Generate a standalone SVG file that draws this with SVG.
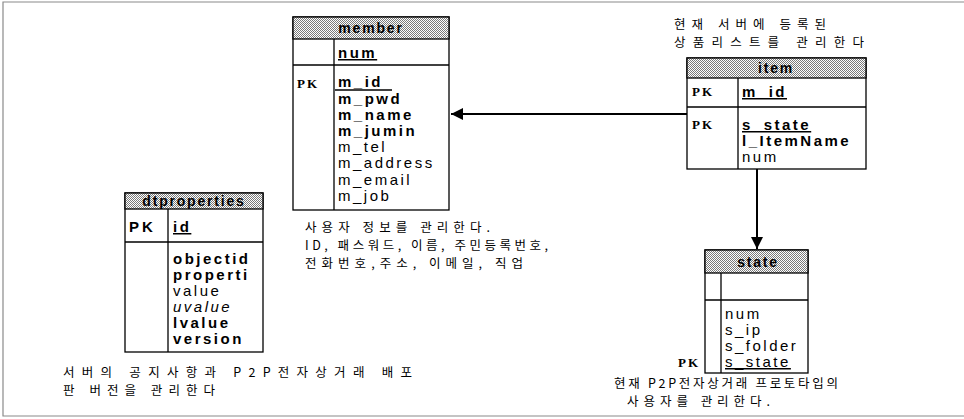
<svg xmlns="http://www.w3.org/2000/svg" width="964" height="419" viewBox="0 0 964 419">
<style>
.frame{fill:none;stroke:#8a8a8a;stroke-width:1.2}
.tbl{fill:#fff;stroke:#000;stroke-width:1.3}
.ln{stroke:#000;stroke-width:1.3;fill:none}
.hdr{fill:url(#dith);stroke:#000;stroke-width:1.3}
.ht{font-family:"Liberation Sans",Arial,sans-serif;font-size:14px;font-weight:bold;letter-spacing:1.8px;text-anchor:middle;fill:#000}
.f{font-family:"Liberation Sans",Arial,sans-serif;font-size:15px;letter-spacing:2.5px;fill:#000}
.b{font-weight:bold}
.i{font-style:italic}
.u{text-decoration:underline}
.pk{font-family:"Liberation Serif","Times New Roman",serif;font-size:13px;font-weight:bold;letter-spacing:2px;fill:#000}
.pk2{font-family:"Liberation Sans",Arial,sans-serif;font-size:15px;font-weight:bold;letter-spacing:3px;fill:#000}
.ko{font-family:"Noto Sans CJK KR","Noto Sans",sans-serif;font-size:12.5px;fill:#000}
.conn{stroke:#000;stroke-width:2;fill:none}
</style>
<defs>
<pattern id="dith" width="2" height="2" patternUnits="userSpaceOnUse">
<rect width="2" height="2" fill="#fff"/>
<rect width="1" height="1" fill="#7a7a7a"/>
<rect x="1" y="1" width="1" height="1" fill="#7a7a7a"/>
</pattern>
<marker id="ah" viewBox="0 0 10 10" refX="10" refY="5" markerWidth="8" markerHeight="6" markerUnits="strokeWidth" orient="auto">
<path d="M0,0 L10,5 L0,10 z" fill="#000"/>
</marker>
</defs>

<rect width="964" height="419" fill="#fff"/>
<polyline class="frame" points="964,2 3,2 3,416 964,416"/>

<g id="connectors">
<line class="conn" x1="687" y1="114" x2="451" y2="114" marker-end="url(#ah)"/>
<line class="conn" x1="757" y1="169" x2="757" y2="249" marker-end="url(#ah)"/>
</g>

<g id="member">
<rect class="tbl" x="293" y="17" width="156" height="193"/>
<rect class="hdr" x="293" y="17" width="156" height="22"/>
<text class="ht" x="371" y="33">member</text>
<line class="ln" x1="293" y1="65" x2="449" y2="65"/>
<line class="ln" x1="334" y1="39" x2="334" y2="210"/>
<text class="f b u" x="338" y="58">num</text>
<text class="pk" x="297" y="88">PK</text>
<text class="f b" x="338" y="87">m_id</text>
<line class="ln" x1="335" y1="90" x2="392" y2="90"/>
<text class="f b" x="338" y="104">m_pwd</text>
<text class="f b" x="338" y="120">m_name</text>
<text class="f b" x="338" y="136">m_jumin</text>
<text class="f" x="338" y="152">m_tel</text>
<text class="f" x="338" y="168">m_address</text>
<text class="f" x="338" y="185">m_email</text>
<text class="f" x="338" y="201">m_job</text>
<text class="ko" x="305" y="232" textLength="185" lengthAdjust="spacing">사용자 정보를 관리한다.</text>
<text class="ko" x="305" y="250" textLength="243" lengthAdjust="spacing">ID, 패스워드, 이름, 주민등록번호,</text>
<text class="ko" x="305" y="268" textLength="218" lengthAdjust="spacing">전화번호,주소, 이메일, 직업</text>
</g>

<g id="item">
<text class="ko" x="674" y="29" textLength="152" lengthAdjust="spacing">현재 서버에 등록된</text>
<text class="ko" x="674" y="47" textLength="190" lengthAdjust="spacing">상품리스트를 관리한다</text>
<rect class="tbl" x="687" y="58" width="179" height="111"/>
<rect class="hdr" x="687" y="58" width="179" height="20"/>
<text class="ht" x="776" y="73">item</text>
<line class="ln" x1="687" y1="107" x2="866" y2="107"/>
<line class="ln" x1="738" y1="78" x2="738" y2="169"/>
<text class="pk" x="692" y="96">PK</text>
<text class="f b u" x="742" y="97">m_id</text>
<text class="pk" x="692" y="129">PK</text>
<text class="f b u" x="742" y="130">s_state</text>
<text class="f b" x="742" y="146">l_ItemName</text>
<text class="f" x="742" y="162">num</text>
</g>

<g id="state">
<rect class="tbl" x="705" y="250" width="103" height="123"/>
<rect class="hdr" x="705" y="250" width="103" height="23"/>
<text class="ht" x="758" y="267">state</text>
<line class="ln" x1="705" y1="300" x2="808" y2="300"/>
<line class="ln" x1="721" y1="273" x2="721" y2="373"/>
<text class="f" x="725" y="319">num</text>
<text class="f" x="725" y="335">s_ip</text>
<text class="f" x="725" y="351">s_folder</text>
<text class="f u" x="725" y="367">s_state</text>
<text class="pk" x="678" y="367">PK</text>
<text class="ko" x="614" y="388" textLength="224" lengthAdjust="spacing">현재 P2P전자상거래 프로토타입의</text>
<text class="ko" x="627" y="406" textLength="143" lengthAdjust="spacing">사용자를 관리한다.</text>
</g>

<g id="dtproperties">
<rect class="tbl" x="125" y="193" width="138" height="159"/>
<rect class="hdr" x="125" y="193" width="138" height="16"/>
<text class="ht" x="194" y="206">dtproperties</text>
<line class="ln" x1="125" y1="242" x2="263" y2="242"/>
<line class="ln" x1="168" y1="209" x2="168" y2="352"/>
<text class="pk2" x="129" y="232">PK</text>
<text class="f b u" x="173" y="232">id</text>
<text class="f b" x="173" y="264">objectid</text>
<text class="f b" x="173" y="280">properti</text>
<text class="f" x="173" y="296">value</text>
<text class="f i" x="173" y="312">uvalue</text>
<text class="f b" x="173" y="328">lvalue</text>
<text class="f b" x="173" y="344">version</text>
<text class="ko" x="63" y="377" textLength="349" lengthAdjust="spacing">서버의 공지사항과 P2P전자상거래 배포</text>
<text class="ko" x="63" y="395" textLength="152" lengthAdjust="spacing">판 버전을 관리한다</text>
</g>
</svg>
